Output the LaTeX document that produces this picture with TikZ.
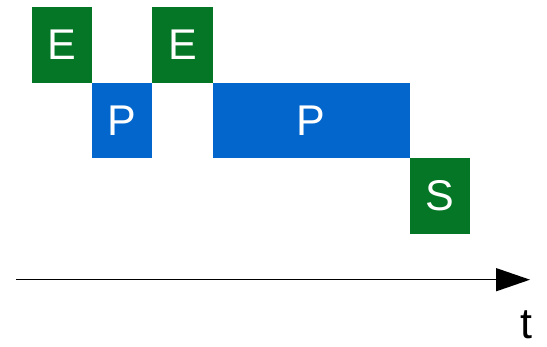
\documentclass[tikz,border=0pt]{standalone}
\usepackage{fontspec}
\setmainfont{Liberation Sans}
\definecolor{egreen}{RGB}{4,118,38}
\definecolor{pblue}{RGB}{2,102,204}
\begin{document}
\begin{tikzpicture}[x=1pt,y=-1pt,
  blk/.style={anchor=north west,inner sep=0pt,outer sep=0pt,text=white,font=\fontsize{43}{43}\selectfont,minimum height=75.5pt},
  eb/.style={blk,fill=egreen,minimum width=60.5pt},
  pb/.style={blk,fill=pblue}]
\useasboundingbox (0,0) rectangle (547,346);
\node[eb] (e1) at (31.7,7.2) {E};
\node[pb,minimum width=60.3pt] (p1) at (92,82.7) {P};
\node[eb] (e2) at (152.3,7.2) {E};
\node[pb,minimum width=197.5pt] (p2) at (212.5,82.7) {P};
\node[eb] (s) at (409.7,158.3) {S};
\coordinate (a0) at (16,279.7);
\coordinate (a1) at (530,279.7);
\draw[line width=1.3pt] (a0) -- (496,279.7);
\fill (a1) -- (496,268) -- (496,291.4) -- cycle;
\node[font=\fontsize{43}{43}\selectfont,anchor=base,inner sep=0pt,text depth=0pt] (t) at (526,338.5) {t};
\end{tikzpicture}
\end{document}
